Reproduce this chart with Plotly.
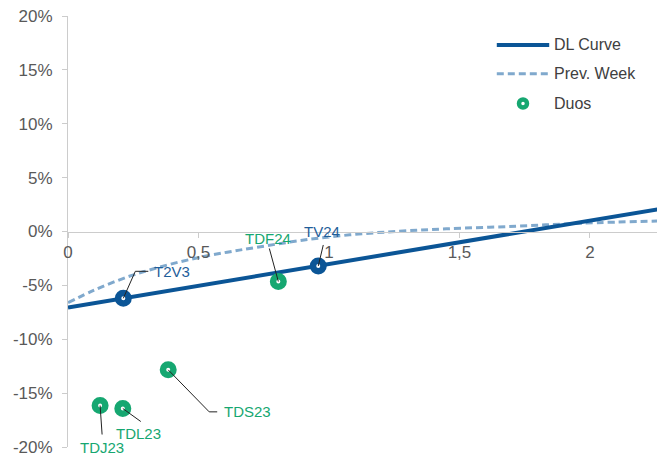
import plotly.graph_objects as go

# ---- data -------------------------------------------------------------
# DL curve (maturity in years, spread in %)
dl_x = [0, 0.5, 1.0, 1.5, 2.0, 2.26]
dl_y = [-7.05, -5.05, -3.05, -1.02, 1.0, 2.06]

# previous week's curve
prev_x = [0, 0.1, 0.225, 0.35, 0.48, 0.61, 0.72, 0.89, 1.08, 1.27, 1.45, 1.72, 1.97, 2.26]
prev_y = [-6.6, -5.45, -4.24, -3.31, -2.53, -1.92, -1.48, -0.84, -0.31, 0.03, 0.25, 0.49, 0.77, 0.97]

# single names sitting on the DL curve
curve_names = ["T2V3", "TV24"]
curve_x = [0.212, 0.959]
curve_y = [-6.2, -3.2]

# duos
duo_names = ["TDF24", "TDS23", "TDJ23", "TDL23"]
duo_x = [0.806, 0.384, 0.123, 0.21]
duo_y = [-4.64, -12.84, -16.15, -16.43]

x_ticks = [0, 0.5, 1, 1.5, 2]
x_tick_labels = ["0", "0,5", "1", "1,5", "2"]
y_ticks = [-20, -15, -10, -5, 0, 5, 10, 15, 20]
y_tick_labels = ["-20%", "-15%", "-10%", "-5%", "0%", "5%", "10%", "15%", "20%"]

# ---- style ------------------------------------------------------------
DARK_BLUE = "#0b5596"
LIGHT_BLUE = "#80a9cd"
GREEN = "#16a771"
LABEL_BLUE = "#1f5e9a"
AXIS_GREY = "#cccccc"
TEXT_GREY = "#595959"
FONT = "Liberation Sans, Arial, sans-serif"

# leader line (pixel path from the point) and label offset / anchor
label_style = {
    "T2V3": dict(path="M0,0 L12,27 L25,27", dx=29, dy=27, xanchor="left"),
    "TV24": dict(path="M0,0 L5,21", dx=4, dy=34, xanchor="center"),
    "TDF24": dict(path="M0,0 L-9,33", dx=-10, dy=43, xanchor="center"),
    "TDS23": dict(path="M0,0 L41,-42 L49,-42", dx=54, dy=-42, xanchor="left"),
    "TDL23": dict(path="M0,0 L18,-13", dx=16, dy=-25, xanchor="center"),
    "TDJ23": dict(path="M0,0 L2,-29", dx=2, dy=-42, xanchor="center"),
}

fig = go.Figure()

fig.add_trace(go.Scatter(
    x=prev_x, y=prev_y, mode="lines", name="Prev. Week",
    line=dict(color=LIGHT_BLUE, width=3, dash="7px,4px", shape="spline"),
    showlegend=False, hoverinfo="skip",
))
fig.add_trace(go.Scatter(
    x=dl_x, y=dl_y, mode="lines", name="DL Curve",
    line=dict(color=DARK_BLUE, width=4),
    showlegend=False,
))
fig.add_trace(go.Scatter(
    x=curve_x, y=curve_y, mode="markers", text=curve_names,
    marker=dict(symbol="circle", size=10.5, color="white",
                line=dict(color=DARK_BLUE, width=6.5)),
    showlegend=False,
))
fig.add_trace(go.Scatter(
    x=duo_x, y=duo_y, mode="markers", name="Duos", text=duo_names,
    marker=dict(symbol="circle", size=10.5, color="white",
                line=dict(color=GREEN, width=6.5)),
    showlegend=False,
))

shapes = []
annotations = []


def add_label(name, x, y, color):
    st = label_style[name]
    shapes.append(dict(
        type="path", xref="x", yref="y",
        xsizemode="pixel", ysizemode="pixel", xanchor=x, yanchor=y,
        path=st["path"], line=dict(color="#222222", width=1), layer="above",
    ))
    annotations.append(dict(
        x=x, y=y, xref="x", yref="y", text=name, showarrow=False,
        xshift=st["dx"], yshift=st["dy"], xanchor=st["xanchor"], yanchor="middle",
        font=dict(family=FONT, size=15, color=color),
    ))


for n, x, y in zip(curve_names, curve_x, curve_y):
    add_label(n, x, y, LABEL_BLUE)
for n, x, y in zip(duo_names, duo_x, duo_y):
    add_label(n, x, y, GREEN)

# ---- legend (drawn in paper space) -----------------------------------
leg_x0, leg_x1, leg_text_x = 0.728, 0.817, 0.821
leg_rows = [0.933, 0.866, 0.797]
shapes.append(dict(type="line", xref="paper", yref="paper",
                   x0=leg_x0, x1=leg_x1, y0=leg_rows[0], y1=leg_rows[0],
                   line=dict(color=DARK_BLUE, width=4)))
shapes.append(dict(type="line", xref="paper", yref="paper",
                   x0=leg_x0, x1=leg_x1, y0=leg_rows[1], y1=leg_rows[1],
                   line=dict(color=LIGHT_BLUE, width=3, dash="7px,4px")))
shapes.append(dict(type="circle", xref="paper", yref="paper",
                   xsizemode="pixel", ysizemode="pixel",
                   xanchor=(leg_x0 + leg_x1) / 2, yanchor=leg_rows[2],
                   x0=-4, x1=4, y0=-4, y1=4,
                   fillcolor="white", line=dict(color=GREEN, width=4.5)))
for name, yy in zip(["DL Curve", "Prev. Week", "Duos"], leg_rows):
    annotations.append(dict(
        x=leg_text_x, y=yy, xref="paper", yref="paper", text=name,
        showarrow=False, xanchor="left", yanchor="middle",
        font=dict(family=FONT, size=16, color="#404040"),
    ))

fig.update_layout(
    width=658, height=457,
    margin=dict(l=68, r=1, t=16, b=10),
    paper_bgcolor="white", plot_bgcolor="white",
    separators=",.",
    font=dict(family=FONT, size=17, color=TEXT_GREY),
    shapes=shapes, annotations=annotations,
    showlegend=False,
    xaxis=dict(
        range=[0, 2.257], anchor="free", position=0.5,
        tickvals=x_ticks, ticktext=x_tick_labels,
        showline=True, linecolor=AXIS_GREY, linewidth=1,
        ticks="outside", ticklen=5, tickcolor=AXIS_GREY,
        showgrid=False, zeroline=False,
        tickfont=dict(family=FONT, size=17, color=TEXT_GREY),
    ),
    yaxis=dict(
        range=[-20, 20],
        tickvals=y_ticks, ticktext=y_tick_labels,
        showline=True, linecolor=AXIS_GREY, linewidth=1,
        ticks="outside", ticklen=5, tickcolor=AXIS_GREY,
        showgrid=False, zeroline=False,
        tickfont=dict(family=FONT, size=17, color=TEXT_GREY),
        ticklabelstandoff=6,
    ),
)

fig.write_html("out.html")
